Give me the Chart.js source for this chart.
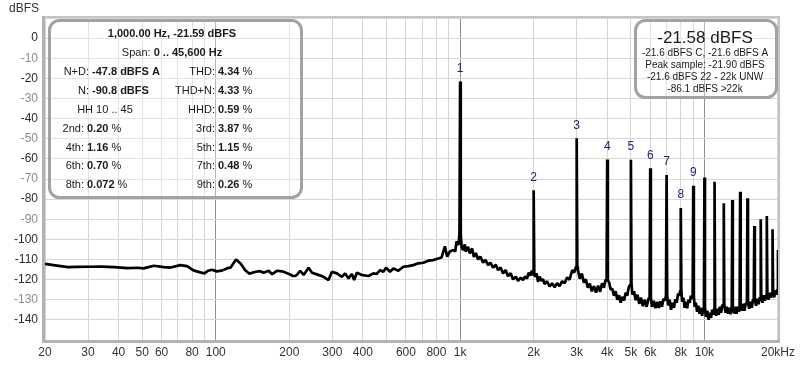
<!DOCTYPE html>
<html>
<head>
<meta charset="utf-8">
<script src="https://cdn.jsdelivr.net/npm/chart.js@4.4.1/dist/chart.umd.min.js"></script>
<style>
  html, body { margin: 0; padding: 0; background: #fff; }
  #wrap { width: 800px; height: 365px; }
</style>
</head>
<body>
<div id="wrap"><canvas id="fft" width="800" height="365"></canvas></div>
<script>
// noise floor, 20 Hz up to the fundamental
const lowHz = [20, 22, 24.8, 27, 29.9, 34, 38.4, 43.5, 47.8, 50.6,
  55.8, 61.3, 65.3, 71.6, 76.3, 81, 86.4, 89.9, 93, 96.4,
  101, 106.5, 111.5, 115, 121, 126.3, 132, 137, 146, 152,
  157, 164.7, 170, 178, 183.6, 189.6, 196, 201.9, 206, 211.6,
  216, 221.8, 228.8, 239.8, 247.5, 259.4, 276.1, 289.3, 298.8, 313.1,
  328.2, 338.5, 349.1, 360.5, 368.4, 377.9, 396, 421.5, 441.7, 456,
  470.4, 485.2, 497.6, 516.7, 533, 558.6, 585.5, 613.7, 643.2, 674.4,
  706.8, 740.8, 776.2, 813.6, 840, 866.5, 885.4, 908.1, 936.8, 955,
  967.1, 985, 994];
const lowDb = [-112.2, -112.9, -113.8, -113.7, -113.6, -113.5, -113.8, -114.3, -114.1, -114.4,
  -113.1, -113.8, -114.0, -112.8, -113.3, -115.4, -116.4, -116.9, -115.6, -115.1,
  -115.9, -115.4, -114.3, -114.0, -110.0, -112.0, -115.3, -117.0, -116.1, -115.8,
  -116.6, -115.6, -117.3, -115.6, -115.8, -116.1, -116.8, -117.4, -118.1, -118.2,
  -117.3, -115.6, -117.7, -114.1, -116.6, -117.4, -118.6, -120.2, -116.1, -116.9,
  -118.6, -116.9, -119.4, -117.2, -120.2, -116.6, -117.7, -118.2, -116.9, -117.2,
  -115.3, -116.1, -114.1, -116.1, -114.5, -115.6, -113.6, -113.3, -112.8, -111.9,
  -111.6, -110.6, -110.3, -109.5, -109.0, -103.5, -108.6, -106.0, -105.3, -106.0,
  -101.0, -102.8, -97];

// noise floor, 1 kHz .. 3 kHz
const midHz = [1006, 1014, 1029, 1045, 1055, 1078, 1096, 1120, 1138, 1160,
  1185, 1210, 1242, 1270, 1302, 1330, 1364, 1400, 1430, 1465,
  1499, 1535, 1571, 1610, 1647, 1690, 1726, 1770, 1808, 1845,
  1878, 1910, 1939, 1965, 1988, 2012, 2030, 2055, 2083, 2115,
  2150, 2185, 2218, 2270, 2325, 2380, 2436, 2495, 2553, 2615,
  2676, 2740, 2805, 2877, 2930, 2982];
const midDb = [-97, -103.7, -105.3, -102.5, -106.1, -103.7, -107.0, -104.5, -108.7, -106.8,
  -110.0, -108.6, -111.6, -110.2, -112.8, -111.5, -114.0, -112.6, -115.3, -114.0,
  -116.9, -115.2, -118.3, -116.8, -119.9, -118.5, -120.6, -119.0, -120.2, -118.4,
  -119.5, -116.5, -118.0, -115.5, -117.5, -117.5, -118.6, -116.8, -121.1, -118.5,
  -120.6, -119.8, -122.2, -120.8, -123.4, -121.8, -123.8, -121.8, -123.2, -120.8,
  -121.8, -119.0, -120.0, -115.3, -116.5, -113.5];

// noise floor, 3 kHz .. 20 kHz (upper / lower edge of the noisy band)
const highHz = [3018, 3035, 3090, 3150, 3210, 3270, 3330, 3395, 3460, 3530,
  3600, 3670, 3740, 3810, 3880, 3940, 3976, 4024, 4070, 4130,
  4200, 4260, 4330, 4400, 4470, 4540, 4610, 4690, 4760, 4830,
  4900, 4970, 5030, 5075, 5150, 5230, 5320, 5410, 5500, 5600,
  5700, 5800, 5900, 5965, 6035, 6100, 6200, 6300, 6400, 6500,
  6600, 6700, 6800, 6880, 6960, 7040, 7100, 7200, 7300, 7400,
  7500, 7600, 7700, 7800, 7880, 7955, 8045, 8110, 8200, 8300,
  8400, 8500, 8600, 8700, 8800, 8880, 8950, 9050, 9120, 9220,
  9330, 9440, 9550, 9660, 9780, 9880, 9950, 10050, 10150, 10270,
  10400, 10520, 10640, 10760, 10870, 10945, 11055, 11180, 11310, 11440,
  11570, 11700, 11820, 11940, 12060, 12200, 12340, 12480, 12620, 12760,
  12935, 13065, 13200, 13360, 13520, 13680, 13850, 13930, 14070, 14230,
  14400, 14570, 14750, 14925, 15075, 15250, 15430, 15620, 15800, 15920,
  16080, 16270, 16460, 16660, 16830, 16915, 17085, 17280, 17480, 17680,
  17910, 18090, 18290, 18500, 18700, 18905, 19095, 19300, 19500, 19700,
  19900];
const highDb = [-113.5, -115.3, -119.5, -117.0, -121.5, -119.8, -124.0, -122.0, -125.8, -123.2,
  -126.5, -123.0, -126.0, -121.8, -124.0, -120.0, -120.5, -120.5, -121.2, -125.0,
  -124.5, -128.0, -125.8, -130.0, -127.8, -131.5, -128.5, -130.4, -126.5, -128.0,
  -123.8, -122.5, -122.5, -127.5, -125.8, -130.2, -127.5, -132.0, -129.0, -133.2,
  -130.0, -133.5, -129.5, -129.0, -129.0, -133.5, -130.5, -134.2, -131.0, -134.0,
  -130.8, -133.5, -129.5, -130.5, -128.0, -128.0, -132.8, -130.0, -135.0, -131.5,
  -134.0, -129.8, -131.5, -127.0, -128.0, -125.5, -125.5, -131.0, -129.0, -134.0,
  -131.0, -134.2, -130.0, -131.5, -128.0, -129.5, -128.0, -128.0, -133.5, -131.5,
  -136.0, -133.0, -137.0, -134.0, -138.0, -134.5, -134.0, -134.0, -138.5, -135.5,
  -140.0, -136.5, -139.0, -135.0, -137.5, -134.5, -134.5, -138.0, -134.5, -137.5,
  -133.5, -136.5, -133.0, -132.5, -132.5, -136.5, -133.5, -137.0, -134.0, -137.2,
  -133.5, -133.5, -136.8, -133.5, -137.0, -133.5, -135.5, -132.5, -132.5, -135.5,
  -132.0, -135.5, -132.0, -131.5, -131.5, -134.5, -131.0, -134.0, -130.0, -130.0,
  -130.0, -133.0, -129.5, -132.2, -128.8, -129.0, -129.0, -131.5, -127.8, -130.5,
  -127.5, -127.5, -130.0, -126.5, -129.0, -126.5, -126.5, -128.8, -125.2, -127.5,
  -124.8];

// harmonic peaks (fundamental first)
const harmHz = [1000, 2000, 3000, 4000, 5000, 6000, 7000, 8000, 9000, 10000,
  11000, 12000, 13000, 14000, 15000, 16000, 17000, 18000, 19000, 20000];
const harmDb = [-21.6, -75.6, -49.8, -60.3, -60.4, -64.7, -68.0, -84.4, -73.3, -69.2,
  -71.4, -82.0, -80.4, -76.3, -79.6, -93.4, -90.0, -88.4, -95.0, -105.3];
const harmLabels = ['1', '2', '3', '4', '5', '6', '7', '8', '9'];

const xTickHz = [20, 30, 40, 50, 60, 70, 80, 90, 100, 200, 300, 400, 500, 600, 700, 800, 900,
  1000, 2000, 3000, 4000, 5000, 6000, 7000, 8000, 9000, 10000, 20000];
const xTickText = { 20: '20', 30: '30', 40: '40', 50: '50', 60: '60', 80: '80', 100: '100',
  200: '200', 300: '300', 400: '400', 600: '600', 800: '800', 1000: '1k', 2000: '2k',
  3000: '3k', 4000: '4k', 5000: '5k', 6000: '6k', 8000: '8k', 10000: '10k', 20000: '20kHz' };
const yLabelDb = [0, -10, -20, -30, -40, -50, -60, -70, -80, -90, -100, -110, -120, -130, -140];
const yLightDb = [-10, -30, -50, -70, -90, -130];

const FONT = "'Liberation Sans', Arial, sans-serif";

const points = [];
lowHz.forEach((f, i) => points.push({ x: f, y: lowDb[i] }));
midHz.forEach((f, i) => points.push({ x: f, y: midDb[i] }));
highHz.forEach((f, i) => points.push({ x: f, y: highDb[i] }));
harmHz.forEach((f, i) => points.push({ x: f, y: harmDb[i] }));
points.sort((a, b) => a.x - b.x);

function boxPath(ctx, x, y, w, h, r) {
  ctx.beginPath();
  ctx.moveTo(x + r, y);
  ctx.lineTo(x + w - r, y);
  ctx.arcTo(x + w, y, x + w, y + r, r);
  ctx.lineTo(x + w, y + h - r);
  ctx.arcTo(x + w, y + h, x + w - r, y + h, r);
  ctx.lineTo(x + r, y + h);
  ctx.arcTo(x, y + h, x, y + h - r, r);
  ctx.lineTo(x, y + r);
  ctx.arcTo(x, y, x + r, y, r);
  ctx.closePath();
}

// draws [text, bold] pieces in a row starting at x
function drawParts(ctx, x, y, parts, size) {
  parts.forEach(([txt, bold]) => {
    ctx.font = (bold ? 'bold ' : '') + size + 'px ' + FONT;
    ctx.fillText(txt, x, y);
    x += ctx.measureText(txt).width;
  });
}
function partsWidth(ctx, parts, size) {
  return parts.reduce((w, [txt, bold]) => {
    ctx.font = (bold ? 'bold ' : '') + size + 'px ' + FONT;
    return w + ctx.measureText(txt).width;
  }, 0);
}

const frame = {
  id: 'frame',
  beforeDatasetsDraw(chart) {
    const { ctx, chartArea: a } = chart;
    ctx.save();
    ctx.fillStyle = '#c4c4c4';
    ctx.fillRect(a.left, a.top - 2, a.right - a.left + 2, 2);
    ctx.fillRect(a.right, a.top - 2, 2, a.bottom - a.top + 2);
    ctx.fillStyle = '#b2b2b2';
    ctx.fillRect(a.left - 3, a.top - 2, 3, a.bottom - a.top + 5);
    ctx.fillRect(a.left - 3, a.bottom, a.right - a.left + 5, 3);
    ctx.restore();
  },
  afterDraw(chart) {
    const { ctx, scales } = chart;
    ctx.save();
    ctx.textBaseline = 'middle';

    ctx.fillStyle = '#333';
    ctx.font = '12px ' + FONT;
    ctx.fillText('dBFS', 9, 9);

    // harmonic numbers
    ctx.fillStyle = '#23236e';
    ctx.font = '12px ' + FONT;
    ctx.textAlign = 'center';
    ctx.textBaseline = 'bottom';
    harmLabels.forEach((t, i) => {
      const x = scales.x.getPixelForValue(harmHz[i]);
      const y = scales.y.getPixelForValue(harmDb[i]);
      ctx.fillText(t, x, y - 7);
    });

    // left readout box
    ctx.lineWidth = 3;
    ctx.strokeStyle = '#a2a2a2';
    boxPath(ctx, 49.5, 20.5, 252, 177, 10);
    ctx.fillStyle = 'rgba(255,255,255,0.35)';
    ctx.fill();
    ctx.stroke();

    ctx.textBaseline = 'middle';
    ctx.textAlign = 'left';
    ctx.fillStyle = '#1a1a1a';
    const rowY = [34, 53, 72, 91, 110, 129, 148, 166, 185];
    const head = [[['1,000.00 Hz, -21.59 dBFS', true]], [['Span: ', false], ['0 .. 45,600 Hz', true]]];
    head.forEach((parts, i) => {
      const w = partsWidth(ctx, parts, 11);
      drawParts(ctx, 172 - w / 2, rowY[i], parts, 11);
    });
    const leftRows = [['N+D:', '-47.8 dBFS A', '', 89], ['N:', '-90.8 dBFS', '', 89], null,
      ['2nd:', '0.20', ' %', 84], ['4th:', '1.16', ' %', 84], ['6th:', '0.70', ' %', 84], ['8th:', '0.072', ' %', 84]];
    const rightRows = [['THD:', '4.34', ' %'], ['THD+N:', '4.33', ' %'], ['HHD:', '0.59', ' %'],
      ['3rd:', '3.87', ' %'], ['5th:', '1.15', ' %'], ['7th:', '0.48', ' %'], ['9th:', '0.26', ' %']];
    leftRows.forEach((r, i) => {
      const y = rowY[i + 2];
      if (!r) {
        ctx.font = '11px ' + FONT;
        ctx.textAlign = 'center';
        ctx.fillText('HH 10 .. 45', 105, y);
        ctx.textAlign = 'left';
        return;
      }
      ctx.font = '11px ' + FONT;
      ctx.textAlign = 'right';
      ctx.fillText(r[0], r[3], y);
      ctx.textAlign = 'left';
      drawParts(ctx, r[3] + 3, y, [[r[1], true], [r[2], false]], 11);
    });
    rightRows.forEach((r, i) => {
      const y = rowY[i + 2];
      ctx.font = '11px ' + FONT;
      ctx.textAlign = 'right';
      ctx.fillText(r[0], 215, y);
      ctx.textAlign = 'left';
      drawParts(ctx, 218, y, [[r[1], true], [r[2], false]], 11);
    });

    // right level box
    ctx.strokeStyle = '#a2a2a2';
    boxPath(ctx, 635.5, 20.5, 141, 77, 10);
    ctx.fillStyle = 'rgba(255,255,255,0.35)';
    ctx.fill();
    ctx.stroke();
    ctx.fillStyle = '#1a1a1a';
    ctx.textAlign = 'center';
    ctx.font = '17px ' + FONT;
    ctx.fillText('-21.58 dBFS', 705, 38);
    ctx.font = '10px ' + FONT;
    ctx.fillText('-21.6 dBFS C, -21.6 dBFS A', 705, 53);
    ctx.fillText('Peak sample: -21.90 dBFS', 705, 65);
    ctx.fillText('-21.6 dBFS 22 - 22k UNW', 705, 77);
    ctx.fillText('-86.1 dBFS >22k', 705, 89);
    ctx.restore();
  },
};

new Chart(document.getElementById('fft'), {
  type: 'line',
  data: {
    datasets: [{
      data: points,
      borderColor: '#000',
      borderWidth: 2.7,
      borderJoinStyle: 'bevel',
      pointRadius: 0,
      tension: 0,
      fill: false,
    }],
  },
  options: {
    responsive: false,
    animation: false,
    devicePixelRatio: 1,
    parsing: false,
    layout: { padding: { top: 18, right: 22, left: 0, bottom: 0 } },
    plugins: { legend: { display: false }, tooltip: { enabled: false } },
    scales: {
      x: {
        type: 'logarithmic',
        min: 20,
        max: 20000,
        afterBuildTicks(scale) {
          scale.ticks = xTickHz.map(v => ({ value: v }));
        },
        afterFit(scale) { scale.height = 25; },
        border: { display: false },
        grid: {
          drawTicks: false,
          color: ctx => ([100, 1000, 10000].includes(ctx.tick.value) ? '#8e8e8e' : '#d4d4d4'),
        },
        ticks: {
          autoSkip: false,
          maxRotation: 0,
          padding: 5,
          color: '#333',
          font: { family: FONT, size: 12 },
          callback: v => xTickText[v] || '',
        },
      },
      y: {
        min: -150,
        max: 10,
        afterFit(scale) { scale.width = 45; },
        border: { display: false },
        grid: { drawTicks: false, color: '#d6d6d6' },
        ticks: {
          stepSize: 5,
          padding: 7,
          font: { family: FONT, size: 12 },
          color: ctx => (yLightDb.includes(ctx.tick.value) ? '#8c8c8c' : '#2a2a2a'),
          callback: v => (yLabelDb.includes(v) ? String(v) : ''),
        },
      },
    },
  },
  plugins: [frame],
});
</script>
</body>
</html>
